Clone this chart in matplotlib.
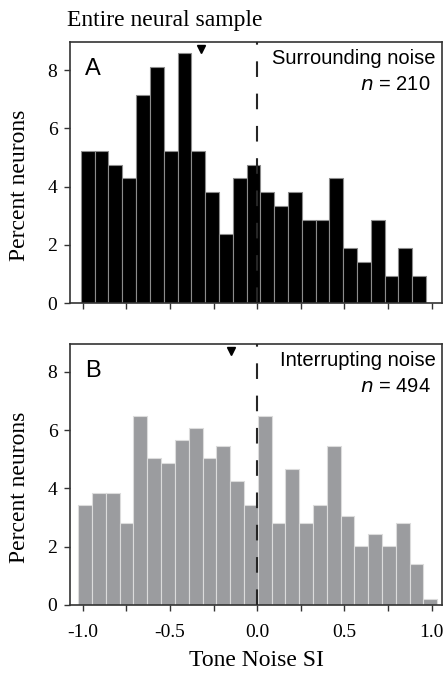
import numpy as np
import matplotlib
matplotlib.use('Agg')
import matplotlib.pyplot as plt

# Histogram data (percent of neurons per bin)
bin_width = 0.0791
left_a = -1.01
left_b = -1.025
pct_surrounding = [5.24, 5.24, 4.76, 4.29, 7.14, 8.10, 5.24, 8.57, 5.24, 3.81,
                   2.38, 4.29, 4.76, 3.81, 3.33, 3.81, 2.86, 2.86, 4.29, 1.90,
                   1.43, 2.86, 0.95, 1.90, 0.95]
pct_interrupting = [3.44, 3.85, 3.85, 2.83, 6.48, 5.06, 4.86, 5.67, 6.07, 5.06,
                    5.47, 4.25, 3.44, 6.48, 2.83, 4.66, 2.83, 3.44, 5.47, 3.04,
                    2.02, 2.43, 2.02, 2.83, 1.42, 0.20]
median_a = -0.324
median_b = -0.152
n_a, n_b = 210, 494
label_a = 'Surrounding noise'
label_b = 'Interrupting noise'
yticks = [0, 2, 4, 6, 8]
xticks_major = [-1.0, -0.5, 0.0, 0.5, 1.0]
xticks_minor = [-0.75, -0.25, 0.25, 0.75]

serif = 'Liberation Serif'
sans = 'Liberation Sans'
plt.rcParams['font.family'] = serif

fig = plt.figure(figsize=(4.48, 6.79), dpi=100)
ax_a = fig.add_axes([0.156, 0.5533, 0.831, 0.3848])
ax_b = fig.add_axes([0.156, 0.1090, 0.831, 0.3844])


def draw_panel(ax, left, pct, face, edge, median, letter, label, n):
    pct = np.array(pct)
    lefts = left + bin_width * np.arange(len(pct))
    ax.bar(lefts, pct, width=bin_width, align='edge', color=face,
           edgecolor=edge, linewidth=0.8, zorder=2)
    ax.axvline(0.0, color='#262626', lw=1.5, linestyle=(0, (7.5, 8)), zorder=3)
    ax.plot([median], [8.72], marker='v', color='black', ms=5.5, zorder=4,
            clip_on=False)
    ax.set_xlim(-1.073, 1.06)
    ax.set_ylim(0, 8.96)
    ax.set_yticks(yticks)
    ax.set_xticks(xticks_major)
    ax.set_xticks(xticks_minor, minor=True)
    ax.tick_params(axis='both', which='both', direction='out', length=4,
                   width=1.0, color='#333333', labelsize=14)
    ax.tick_params(axis='y', pad=5)
    ax.tick_params(axis='x', pad=10)
    for sp in ax.spines.values():
        sp.set_linewidth(1.2)
        sp.set_color('#333333')
    ax.set_ylabel('Percent neurons', fontsize=17)
    ax.yaxis.set_label_coords(-0.108, 0.45)
    ax.text(0.04, 0.94, letter, transform=ax.transAxes, fontsize=17,
            family=sans, ha='left', va='top')
    ax.text(0.982, 0.975, label, transform=ax.transAxes, fontsize=14.5,
            family=sans, ha='right', va='top')
    ax.text(0.968, 0.875, r'$\it{n}$ = %d' % n, transform=ax.transAxes,
            fontsize=14.5, family=sans, ha='right', va='top')


draw_panel(ax_a, left_a, pct_surrounding, 'black', '#8c8c8c', median_a,
           'A', label_a, n_a)
draw_panel(ax_b, left_b, pct_interrupting, '#9b9c9f', '#dcdcdc', median_b,
           'B', label_b, n_b)

ax_a.set_xticklabels([])
ax_b.set_xticklabels(['-1.0', '-0.5', '0.0', '0.5', '1.0'])
ax_b.set_xlabel('Tone Noise SI', fontsize=17, labelpad=6)

fig.text(0.150, 0.962, 'Entire neural sample', fontsize=17, ha='left',
         va='baseline')

fig.savefig('out.png', dpi=100)
